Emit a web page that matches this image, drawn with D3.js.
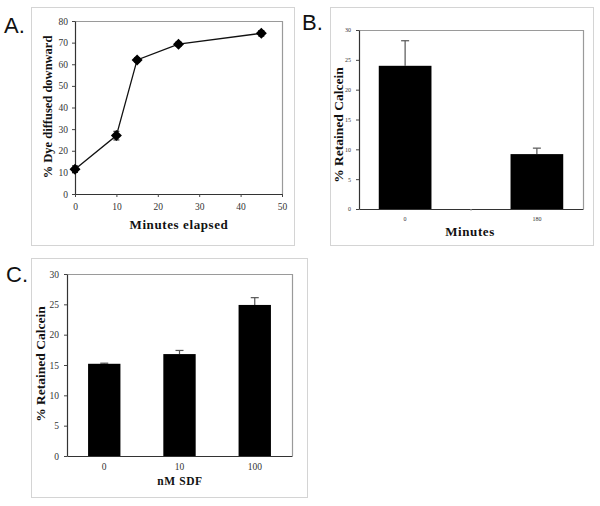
<!DOCTYPE html>
<html><head><meta charset="utf-8">
<script src="https://cdn.jsdelivr.net/npm/d3@7"></script>
<style>body{margin:0;background:#fff}svg{display:block}</style>
</head><body>
<script>
// Panel A data
const aMinutes = [0, 10, 15, 25, 45];
const aDye = [11.5, 27, 62, 69.3, 74.3];
const aErr = [1.5, 2, 1, 1, 1.3];
const aXTicks = [0, 10, 20, 30, 40, 50];
const aYTicks = [0, 10, 20, 30, 40, 50, 60, 70, 80];
// Panel B data
const bCats = ["0", "180"];
const bVals = [24.0, 9.2];
const bErr = [4.2, 1.0];
const bYTicks = [0, 5, 10, 15, 20, 25, 30];
// Panel C data
const cCats = ["0", "10", "100"];
const cVals = [15.2, 16.8, 24.9];
const cErr = [0.1, 0.6, 1.2];
const cYTicks = [0, 5, 10, 15, 20, 25, 30];

const svg = d3.select("body").append("svg").attr("width", 600).attr("height", 506);
const serif = "'Liberation Serif','Times New Roman',serif";
const sans = "'Liberation Sans',Arial,sans-serif";

function frame(x0, y0, x1, y1) {
  svg.append("rect").attr("x", x0 + 0.5).attr("y", y0 + 0.5).attr("width", x1 - x0).attr("height", y1 - y0)
    .attr("fill", "#fff").attr("stroke", "#d4d4d4").attr("stroke-width", 1);
}
function plotBox(L, T, R, B) {
  svg.append("path").attr("d", `M${L},${T + 0.5}H${R + 0.5}V${B}`).attr("fill", "none").attr("stroke", "#9a9a9a").attr("stroke-width", 1.2);
}
function letter(txt, x, y) {
  svg.append("text").attr("x", x).attr("y", y).attr("font-family", sans).attr("font-size", 22).attr("fill", "#111").text(txt);
}
function yTitle(txt, x, y, fs) {
  svg.append("text").attr("transform", `translate(${x},${y}) rotate(-90)`).attr("text-anchor", "middle")
    .attr("dominant-baseline", "middle").attr("font-family", serif).attr("font-weight", "bold").attr("font-size", fs).attr("fill", "#111").text(txt);
}
function xTitle(txt, x, y, fs) {
  svg.append("text").attr("x", x).attr("y", y).attr("text-anchor", "middle").attr("dominant-baseline", "middle")
    .attr("font-family", serif).attr("font-weight", "bold").attr("font-size", fs).attr("fill", "#111").attr("letter-spacing", 0.6).text(txt);
}
function styleAxis(g, fs) {
  g.selectAll("text").attr("font-family", serif).attr("font-size", fs).attr("fill", "#333");
  g.selectAll("line").attr("stroke", "#444");
  g.select(".domain").attr("stroke", "#333").attr("stroke-width", 1.2);
}

// ---------- Panel A ----------
frame(31, 7, 294, 245);
letter("A.", 4, 33);
{
  const L = 75, T = 21, R = 282, B = 194;
  plotBox(L, T, R, B);
  const x = d3.scaleLinear().domain([0, 50]).range([L, R]);
  const y = d3.scaleLinear().domain([0, 80]).range([B, T]);
  const gy = svg.append("g").attr("transform", `translate(${L},0)`).call(d3.axisLeft(y).tickValues(aYTicks).tickSize(3).tickPadding(4).tickSizeOuter(0));
  styleAxis(gy, 9.5);
  const gx = svg.append("g").attr("transform", `translate(0,${B})`).call(d3.axisBottom(x).tickValues(aXTicks).tickSize(3).tickPadding(6).tickSizeOuter(0));
  styleAxis(gx, 9.5);
  const pts = aMinutes.map((m, i) => ({ x: m, y: aDye[i], e: aErr[i] }));
  svg.append("path").datum(pts).attr("fill", "none").attr("stroke", "#111").attr("stroke-width", 1.3)
    .attr("d", d3.line().x(d => x(d.x)).y(d => y(d.y)));
  const eb = svg.append("g").attr("stroke", "#111").attr("stroke-width", 1);
  pts.forEach(d => {
    eb.append("line").attr("x1", x(d.x)).attr("x2", x(d.x)).attr("y1", y(d.y - d.e)).attr("y2", y(d.y + d.e));
    [d.y - d.e, d.y + d.e].forEach(v => eb.append("line").attr("x1", x(d.x) - 3).attr("x2", x(d.x) + 3).attr("y1", y(v)).attr("y2", y(v)));
  });
  svg.append("g").selectAll("path").data(pts).join("path")
    .attr("transform", d => `translate(${x(d.x)},${y(d.y)})`)
    .attr("d", "M0,-5.5L5.5,0L0,5.5L-5.5,0Z").attr("fill", "#000");
  yTitle("% Dye diffused downward", 49, 107, 12.5);
  xTitle("Minutes elapsed", 179, 226, 13);
}

// ---------- Panel B ----------
frame(330, 7, 593, 245);
letter("B.", 302, 30);
{
  const L = 359, T = 30, R = 583, B = 209;
  plotBox(L, T, R, B);
  const x = d3.scaleBand().domain(bCats).range([L, R]).paddingInner(0.6).paddingOuter(0.15);
  const y = d3.scaleLinear().domain([0, 30]).range([B, T]);
  const gy = svg.append("g").attr("transform", `translate(${L},0)`).call(d3.axisLeft(y).tickValues(bYTicks).tickSize(3).tickPadding(5).tickSizeOuter(0));
  styleAxis(gy, 6);
  const gx = svg.append("g").attr("transform", `translate(0,${B})`).call(d3.axisBottom(x).tickSize(0).tickPadding(8).tickSizeOuter(0));
  styleAxis(gx, 6);
  svg.append("line").attr("x1", (L + R) / 2).attr("x2", (L + R) / 2).attr("y1", B).attr("y2", B + 2).attr("stroke", "#aaa");
  const data = bCats.map((c, i) => ({ c, v: bVals[i], e: bErr[i] }));
  const eb = svg.append("g").attr("stroke", "#555").attr("stroke-width", 1.2);
  data.forEach(d => {
    const cx = x(d.c) + x.bandwidth() / 2;
    eb.append("line").attr("x1", cx).attr("x2", cx).attr("y1", y(d.v)).attr("y2", y(d.v + d.e));
    eb.append("line").attr("x1", cx - 4).attr("x2", cx + 4).attr("y1", y(d.v + d.e)).attr("y2", y(d.v + d.e));
  });
  svg.append("g").selectAll("rect").data(data).join("rect")
    .attr("x", d => x(d.c)).attr("width", x.bandwidth()).attr("y", d => y(d.v)).attr("height", d => B - y(d.v)).attr("fill", "#000");
  yTitle("% Retained Calcein", 340, 125, 13.5);
  xTitle("Minutes", 470, 233, 13);
}

// ---------- Panel C ----------
frame(31, 258, 307, 497);
letter("C.", 6, 282);
{
  const L = 67, T = 274, R = 292, B = 456;
  plotBox(L, T, R, B);
  const x = d3.scaleBand().domain(cCats).range([L, R]).paddingInner(0.57).paddingOuter(0.28);
  const y = d3.scaleLinear().domain([0, 30]).range([B, T]);
  const gy = svg.append("g").attr("transform", `translate(${L},0)`).call(d3.axisLeft(y).tickValues(cYTicks).tickSize(3).tickPadding(5).tickSizeOuter(0));
  styleAxis(gy, 9.5);
  const gx = svg.append("g").attr("transform", `translate(0,${B})`).call(d3.axisBottom(x).tickSize(0).tickPadding(7).tickSizeOuter(0));
  styleAxis(gx, 9.5);
  const data = cCats.map((c, i) => ({ c, v: cVals[i], e: cErr[i] }));
  const eb = svg.append("g").attr("stroke", "#555").attr("stroke-width", 1.2);
  data.forEach(d => {
    const cx = x(d.c) + x.bandwidth() / 2;
    eb.append("line").attr("x1", cx).attr("x2", cx).attr("y1", y(d.v)).attr("y2", y(d.v + d.e));
    eb.append("line").attr("x1", cx - 4).attr("x2", cx + 4).attr("y1", y(d.v + d.e)).attr("y2", y(d.v + d.e));
  });
  svg.append("g").selectAll("rect").data(data).join("rect")
    .attr("x", d => x(d.c)).attr("width", x.bandwidth()).attr("y", d => y(d.v)).attr("height", d => B - y(d.v)).attr("fill", "#000");
  yTitle("% Retained Calcein", 42, 364, 13.5);
  xTitle("nM SDF", 180, 482, 11.5);
}
</script>
</body></html>
